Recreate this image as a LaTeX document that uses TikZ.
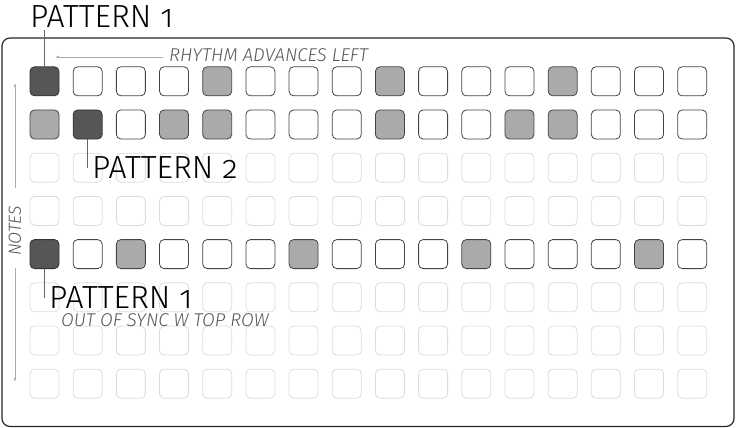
\documentclass[tikz,border=0pt]{standalone}
\usepackage{fontspec}
\setmainfont{Fira Sans Light}[Numbers=OldStyle, ItalicFont={Fira Sans Light Italic}]
\usetikzlibrary{arrows.meta}
\definecolor{fd}{HTML}{545755}
\definecolor{bd}{HTML}{333333}
\definecolor{fg}{HTML}{A9ABA9}
\definecolor{bg}{HTML}{444444}
\definecolor{fw}{HTML}{FFFFFF}
\definecolor{bw}{HTML}{444444}
\definecolor{ff}{HTML}{FFFFFF}
\definecolor{bf}{HTML}{DCDCDC}
\definecolor{hint}{HTML}{555555}
\definecolor{guide}{HTML}{ABABAB}
\tikzset{
  frame/.style={draw=black!85, line width=1.2pt, rounded corners=8pt},
  cell/.style={rounded corners=4.5pt, minimum size=29pt, inner sep=0pt, line width=0.8pt},
  bigtag/.style={anchor=base west, inner sep=0pt, font=\fontsize{32}{32}\selectfont, text=black},
  smalltag/.style={anchor=base west, inner sep=0pt, font=\fontsize{18.5}{18.5}\selectfont\itshape, text=hint},
  leader/.style={draw=black!60, line width=0.8pt},
  guideline/.style={draw=guide, line width=0.9pt},
}
\begin{document}
\begin{tikzpicture}[x=1pt,y=-1pt]
\useasboundingbox (0,0) rectangle (737,428);
\draw[frame] (2,38) rectangle (734,426.5);
% grid of pads
\foreach \r/\pat in {
  1/{d,w,w,w,g,w,w,w,g,w,w,w,g,w,w,w},
  2/{g,d,w,g,g,w,w,w,g,w,w,g,g,w,w,w},
  3/{f,f,f,f,f,f,f,f,f,f,f,f,f,f,f,f},
  4/{f,f,f,f,f,f,f,f,f,f,f,f,f,f,f,f},
  5/{d,w,g,w,w,w,g,w,w,w,g,w,w,w,g,w},
  6/{f,f,f,f,f,f,f,f,f,f,f,f,f,f,f,f},
  7/{f,f,f,f,f,f,f,f,f,f,f,f,f,f,f,f},
  8/{f,f,f,f,f,f,f,f,f,f,f,f,f,f,f,f}}{
  \foreach \s [count=\c] in \pat {
    \node[cell, fill=f\s, draw=b\s] (s\r-\c) at ({44.5+(\c-1)*43.18},{81.3+(\r-1)*43.2}) {};
  }
}
% labels
\node[bigtag] (p1) at (30,28) {PATTERN 1};
\node[bigtag] (p2) at (92,178) {PATTERN 2};
\node[bigtag] (p3) at (49,308) {PATTERN 1};
\node[smalltag] (sync) at (61,326) {OUT OF SYNC W TOP ROW};
\node[smalltag] (rhythm) at (169,62) {RHYTHM ADVANCES LEFT};
\node[inner sep=0pt, rotate=90, font=\fontsize{17.5}{17.5}\selectfont\itshape, text=hint] (notes) at (15,231) {NOTES};
% leader lines
\coordinate (l1) at (s1-1.north |- 0,30);
\coordinate (l2) at (s2-2.south |- 0,168);
\coordinate (l3) at (s5-1.south |- 0,298);
\draw[leader] (s1-1.north) -- (l1);
\draw[leader] (s2-2.south) -- (l2);
\draw[leader] (s5-1.south) -- (l3);
% guide arrows
\coordinate (h1) at (163,57);
\coordinate (h2) at (55,57);
\draw[guideline, -{Latex[length=4pt,width=3pt]}] (h1) -- (h2);
\coordinate (v1) at (15,188);
\coordinate (v2) at (15,83);
\coordinate (v3) at (15,268);
\coordinate (v4) at (15,382);
\draw[guideline, -{Latex[length=4pt,width=3pt]}] (v1) -- (v2);
\draw[guideline, -{Latex[length=4pt,width=3pt]}] (v3) -- (v4);
\end{tikzpicture}
\end{document}
